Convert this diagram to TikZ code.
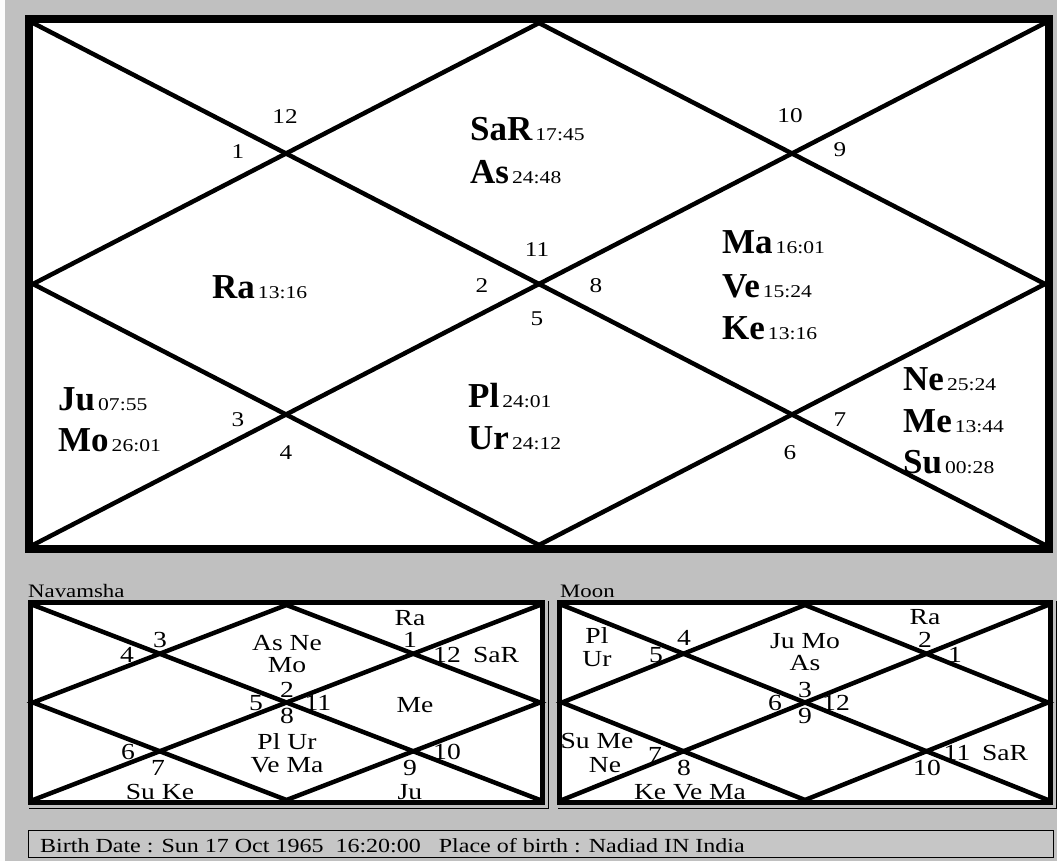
\documentclass[tikz,border=0pt]{standalone}
\usepackage{fontspec}
\setmainfont[FakeStretch=1.2]{Liberation Serif}
\newfontfamily\plfont{Liberation Serif}
\usetikzlibrary{calc, positioning}

\definecolor{winbg}{HTML}{C0C0C0}
\definecolor{barbg}{HTML}{C6C6C6}

\newcommand{\dg}[1]{{\normalfont\fontsize{18}{18}\selectfont\,#1}}

% one chart: prefix, inner corners x0 y0 x1 y1
\newcommand{\rasi}[5]{%
  \coordinate (#1nw) at (#2,#3); \coordinate (#1ne) at (#4,#3);
  \coordinate (#1se) at (#4,#5); \coordinate (#1sw) at (#2,#5);
  \coordinate (#1n) at ($(#1nw)!.5!(#1ne)$);
  \coordinate (#1s) at ($(#1sw)!.5!(#1se)$);
  \coordinate (#1w) at ($(#1nw)!.5!(#1sw)$);
  \coordinate (#1e) at ($(#1ne)!.5!(#1se)$);
  \draw[house] (#1nw) -- (#1se); \draw[house] (#1ne) -- (#1sw);
  \draw[house] (#1n) -- (#1e) -- (#1s) -- (#1w) -- cycle;
}

\begin{document}
\begin{tikzpicture}[
  x=1pt, y=-1pt,
  house/.style={line width=4.5pt},
  frame/.style={draw, line width=#1},
  pl/.style={font=\plfont\bfseries\fontsize{35}{35}\selectfont, anchor=base west, inner sep=0pt},
  num/.style={font=\fontsize{21}{21}\selectfont, inner sep=0pt},
  sm/.style={font=\fontsize{23}{23}\selectfont, inner sep=0pt},
  lbl/.style={font=\fontsize{19}{19}\selectfont, anchor=base west, inner sep=0pt}
]
  \fill[winbg] (0,0) rectangle (1057,861);
  \useasboundingbox (0,0) rectangle (1057,861);
  \fill[white!95!winbg] (0,0) rectangle (5,861);

  % main chart
  \fill[white] (29,19) rectangle (1049,549);
  \rasi{m}{33}{23}{1045}{545}
  \draw[frame=8pt] (29,19) rectangle (1049,549);

  \node[num] (h12) at (285,117) {12};
  \node[num] (h1)  at (238,152) {1};
  \node[num] (h10) at (790,116) {10};
  \node[num] (h9)  at (840,150) {9};
  \node[num] (h11) at (537,250) {11};
  \node[num] (h2)  at (482,286) {2};
  \node[num] (h8)  at (596,286) {8};
  \node[num] (h5)  at (537,319) {5};
  \node[num] (h3)  at (238,420) {3};
  \node[num] (h4)  at (286,453) {4};
  \node[num] (h7)  at (840,420) {7};
  \node[num] (h6)  at (790,453) {6};

  \node[pl] (sar) at (470,141) {SaR\dg{17:45}};
  \node[pl] (as)  at (470,184) {As\dg{24:48}};
  \node[pl] (ra)  at (212,298) {Ra\dg{13:16}};
  \node[pl] (ma)  at (722,253) {Ma\dg{16:01}};
  \node[pl] (ve)  at (722,297) {Ve\dg{15:24}};
  \node[pl] (ke)  at (722,339) {Ke\dg{13:16}};
  \node[pl] (ju)  at (58,410)  {Ju\dg{07:55}};
  \node[pl] (mo)  at (58,451)  {Mo\dg{26:01}};
  \node[pl] (pl)  at (468,407) {Pl\dg{24:01}};
  \node[pl] (ur)  at (468,449) {Ur\dg{24:12}};
  \node[pl] (ne)  at (903,390) {Ne\dg{25:24}};
  \node[pl] (me)  at (903,432) {Me\dg{13:44}};
  \node[pl] (su)  at (903,473) {Su\dg{00:28}};

  % navamsha
  \node[lbl] (navlbl) at (28,597) {Navamsha};
  \draw[line width=1pt] (548,601) -- (548,808) -- (29,808);
  \fill[white] (30.5,602.5) rectangle (542.5,802.5);
  \rasi{n}{33}{605}{540}{800}
  \draw[frame=5pt] (30.5,602.5) rectangle (542.5,802.5);

  \node[sm] (n-ra)   at (410,618) {Ra};
  \node[sm] (n-asne) at (287,643) {As Ne};
  \node[sm] (n-mo)   at (287,665) {Mo};
  \node[sm] (n3)     at (160,640) {3};
  \node[sm] (n4)     at (127,655) {4};
  \node[sm] (n1)     at (410,640) {1};
  \node[sm] (n12)    at (447,655) {12};
  \node[sm] (n-sar)  at (496,655) {SaR};
  \node[sm] (n2)     at (287,690) {2};
  \node[sm] (n5)     at (256,703) {5};
  \node[sm] (n11)    at (318,703) {11};
  \node[sm] (n8)     at (287,716) {8};
  \node[sm] (n-me)   at (415,705) {Me};
  \node[sm] (n-plur) at (287,742) {Pl Ur};
  \node[sm] (n-vema) at (287,765) {Ve Ma};
  \node[sm] (n6)     at (128,752) {6};
  \node[sm] (n7)     at (158,768) {7};
  \node[sm] (n10)    at (447,752) {10};
  \node[sm] (n9)     at (410,768) {9};
  \node[sm] (n-suke) at (160,792) {Su Ke};
  \node[sm] (n-ju)   at (410,792) {Ju};

  % moon chart
  \node[lbl] (moonlbl) at (560,597) {Moon};
  \draw[line width=1pt] (1056,601) -- (1056,808) -- (558,808);
  \fill[white] (559.5,602.5) rectangle (1050.5,802.5);
  \rasi{c}{562}{605}{1048}{800}
  \draw[frame=5pt] (559.5,602.5) rectangle (1050.5,802.5);

  \node[sm] (c-ra)   at (925,617) {Ra};
  \node[sm] (c-pl)   at (597,636) {Pl};
  \node[sm] (c-ur)   at (597,659) {Ur};
  \node[sm] (c5)     at (656,655) {5};
  \node[sm] (c4)     at (684,638) {4};
  \node[sm] (c-jumo) at (805,641) {Ju Mo};
  \node[sm] (c-as)   at (805,663) {As};
  \node[sm] (c2)     at (925,640) {2};
  \node[sm] (c1)     at (955,655) {1};
  \node[sm] (c3)     at (805,690) {3};
  \node[sm] (c6)     at (775,703) {6};
  \node[sm] (c12)    at (836,703) {12};
  \node[sm] (c9)     at (805,716) {9};
  \node[sm] (c-sume) at (597,741) {Su Me};
  \node[sm] (c-ne)   at (605,765) {Ne};
  \node[sm] (c7)     at (655,755) {7};
  \node[sm] (c8)     at (684,768) {8};
  \node[sm] (c-kvm)  at (690,792) {Ke Ve Ma};
  \node[sm] (c11)    at (957,753) {11};
  \node[sm] (c-sar)  at (1005,753) {SaR};
  \node[sm] (c10)    at (927,768) {10};

  % birth data bar
  \draw[fill=barbg, line width=1pt] (28.5,830.5) rectangle (1053.5,857.5);
  \draw[line width=1pt] (28,861) -- (1054,861);
  \node[lbl, font=\fontsize{20}{20}\selectfont] (birth) at (40,852)
    {Birth Date : Sun 17 Oct 1965\ \ 16:20:00\ \ \ Place of birth : Nadiad IN India};
\end{tikzpicture}
\end{document}
